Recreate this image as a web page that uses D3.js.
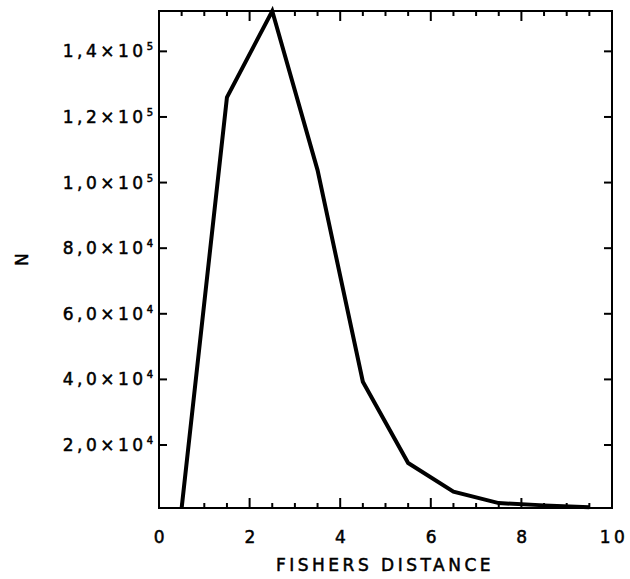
<!DOCTYPE html>
<html>
<head>
<meta charset="utf-8">
<script src="https://cdn.jsdelivr.net/npm/d3@7"></script>
<style>
  body { margin: 0; background: #fff; }
  text { font-family: "DejaVu Sans", sans-serif; fill: #000; stroke: #000; stroke-width: 0.5px; letter-spacing: 3.5px; }
</style>
</head>
<body>
<div id="wrapper"></div>
<script>
// bin centres and counts
const fisherDistance = [0.5, 1.5, 2.5, 3.5, 4.5, 5.5, 6.5, 7.5, 8.5, 9.5];
const counts = [800, 126000, 152300, 103800, 39300, 14500, 5800, 2300, 1600, 1000];

const yTickValues = [20000, 40000, 60000, 80000, 100000, 120000, 140000];
const yTickMantissa = ["2,0", "4,0", "6,0", "8,0", "1,0", "1,2", "1,4"];
const yTickExponent = ["4", "4", "4", "4", "5", "5", "5"];
const xTickValues = [0, 2, 4, 6, 8, 10];
const xMinorValues = d3.range(0, 10.01, 0.5);

function buildPlot() {
    var dimension = {
        width: 630,
        height: 579,
        margin: { top: 11, left: 159, bottom: 71, right: 18 }
    };
    dimension.boundedWidth = dimension.width - dimension.margin.left - dimension.margin.right;
    dimension.boundedHeight = dimension.height - dimension.margin.top - dimension.margin.bottom;

    const svg = d3.select("#wrapper").append("svg")
        .attr("width", dimension.width)
        .attr("height", dimension.height);

    const bounded = svg.append("g")
        .attr("transform", `translate(${dimension.margin.left},${dimension.margin.top})`);

    const xScaler = d3.scaleLinear()
        .domain([0, 10])
        .range([0, dimension.boundedWidth]);

    const yScaler = d3.scaleLinear()
        .domain(d3.extent(counts))
        .range([dimension.boundedHeight, 0]);

    // frame
    bounded.append("rect")
        .attr("x", 0).attr("y", 0)
        .attr("width", dimension.boundedWidth)
        .attr("height", dimension.boundedHeight)
        .attr("fill", "none")
        .attr("stroke", "#000")
        .attr("stroke-width", 2);

    // x ticks, bottom and top, minor every 0.5
    const xTicks = bounded.append("g").attr("stroke", "#000").attr("stroke-width", 2);
    xMinorValues.forEach(v => {
        const major = Math.abs(v / 2 - Math.round(v / 2)) < 1e-6;
        const len = major ? 10 : 5;
        const x = xScaler(v);
        xTicks.append("line")
            .attr("x1", x).attr("x2", x)
            .attr("y1", dimension.boundedHeight).attr("y2", dimension.boundedHeight - len);
        xTicks.append("line")
            .attr("x1", x).attr("x2", x)
            .attr("y1", 0).attr("y2", len);
    });

    // y ticks, left and right
    const yTicks = bounded.append("g").attr("stroke", "#000").attr("stroke-width", 2);
    yTickValues.forEach(v => {
        const y = yScaler(v);
        yTicks.append("line").attr("x1", 0).attr("x2", 8).attr("y1", y).attr("y2", y);
        yTicks.append("line")
            .attr("x1", dimension.boundedWidth).attr("x2", dimension.boundedWidth - 8)
            .attr("y1", y).attr("y2", y);
    });

    // x tick labels
    bounded.append("g").selectAll("text")
        .data(xTickValues)
        .join("text")
        .attr("x", d => xScaler(d) + 2)
        .attr("y", dimension.boundedHeight + 35)
        .attr("text-anchor", "middle")
        .style("font-size", "17px")
        .text(d => d);

    // y tick labels with superscript exponents
    const yLabels = bounded.append("g").selectAll("text")
        .data(yTickValues)
        .join("text")
        .attr("x", -6)
        .attr("y", d => yScaler(d) + 6)
        .attr("text-anchor", "end")
        .style("font-size", "17px");
    yLabels.append("tspan").text((d, i) => yTickMantissa[i] + "×10");
    yLabels.append("tspan")
        .attr("dy", -7)
        .style("font-size", "10px")
        .style("letter-spacing", "0px")
        .text((d, i) => yTickExponent[i]);

    // the curve
    const line = d3.line()
        .x((d, i) => xScaler(fisherDistance[i]))
        .y(d => yScaler(d));
    bounded.append("path")
        .attr("d", line(counts))
        .attr("fill", "none")
        .attr("stroke", "#000")
        .attr("stroke-width", 4)
        .attr("stroke-linejoin", "miter");

    // axis titles
    svg.append("text")
        .attr("x", 385)
        .attr("y", 571)
        .attr("text-anchor", "middle")
        .style("font-size", "17px")
        .text("FISHERS DISTANCE");

    svg.append("text")
        .attr("transform", `translate(28,258) rotate(-90)`)
        .attr("text-anchor", "middle")
        .style("font-size", "17px")
        .text("N");
}

buildPlot();
</script>
</body>
</html>
